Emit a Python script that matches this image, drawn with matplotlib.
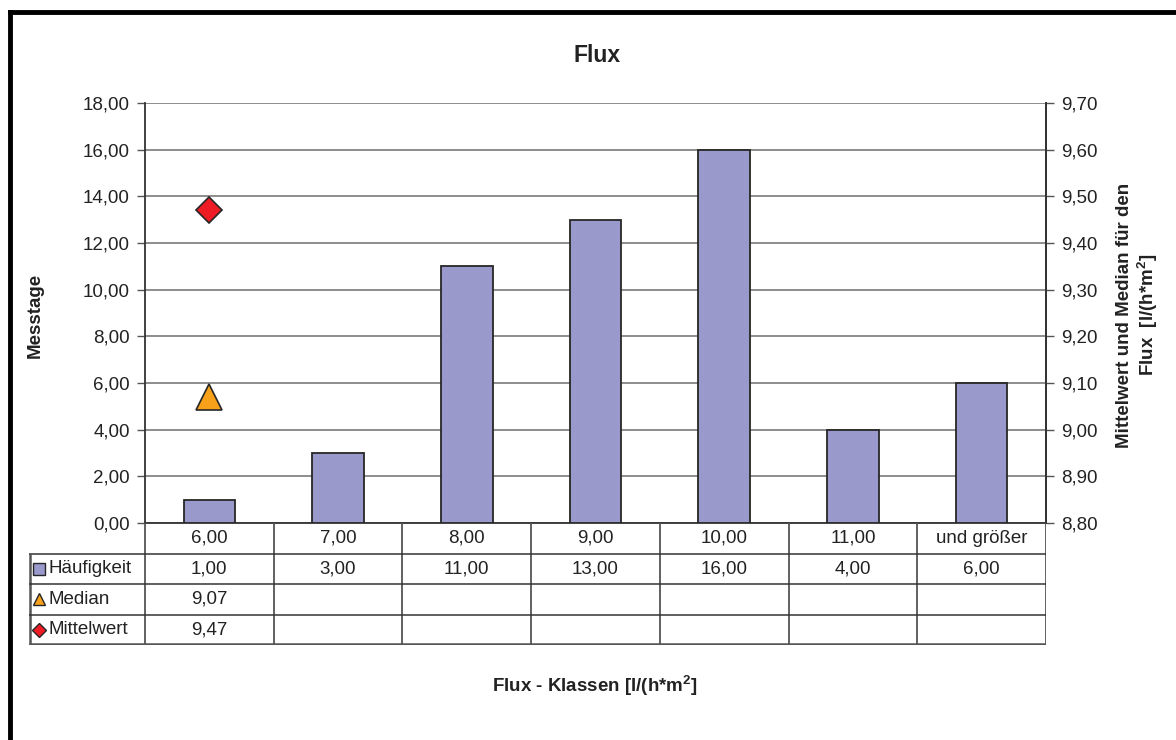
import matplotlib
matplotlib.use('Agg')
import matplotlib.pyplot as plt
from matplotlib.ticker import MultipleLocator, FuncFormatter
from matplotlib.lines import Line2D

# data
categories = ['6,00', '7,00', '8,00', '9,00', '10,00', '11,00', 'und größer']
haeufigkeit = [1, 3, 11, 13, 16, 4, 6]
median = [9.07]
mittelwert = [9.47]
row_labels = ['Häufigkeit', 'Median', 'Mittelwert']

plt.rcParams['font.family'] = ['Liberation Sans', 'DejaVu Sans']
plt.rcParams['font.size'] = 13.5
plt.rcParams['mathtext.fontset'] = 'custom'
plt.rcParams['mathtext.bf'] = 'Liberation Sans:bold'

BAR = '#9999cc'
MED = '#f7a11a'
MIT = '#ed1c24'
EDGE = '#262626'
LINE = '#555555'
TXT = '#222222'


def de(v, pos=None):
    return f'{v:.2f}'.replace('.', ',')


W, H = 1176, 740
fig = plt.figure(figsize=(W / 100, H / 100), dpi=100)


def px(x0, y0, x1, y1):
    return [x0 / W, 1 - y1 / H, (x1 - x0) / W, (y1 - y0) / H]


# main chart
ax = fig.add_axes(px(145, 103, 1046, 523))
x = list(range(len(categories)))
ax.bar(x, haeufigkeit, width=0.4, color=BAR, edgecolor=EDGE, linewidth=1.3, zorder=3)
ax.set_xlim(-0.5, len(categories) - 0.5)
ax.set_ylim(0, 18)
ax.yaxis.set_major_locator(MultipleLocator(2))
ax.yaxis.set_major_formatter(FuncFormatter(de))
ax.grid(axis='y', color='#6f6f6f', lw=1.1, zorder=0)
ax.set_xticks([])
ax.tick_params(axis='y', direction='out', length=6, width=1, color=LINE, pad=5, labelcolor=TXT)
for s in ['left', 'right', 'bottom']:
    ax.spines[s].set_color('#333333')
    ax.spines[s].set_linewidth(1.3)
ax.spines['top'].set_visible(False)

ax2 = ax.twinx()
ax2.set_ylim(8.8, 9.7)
ax2.yaxis.set_major_locator(MultipleLocator(0.1))
ax2.yaxis.set_major_formatter(FuncFormatter(de))
ax2.tick_params(axis='y', direction='out', length=6, width=1, color=LINE, pad=5, labelcolor=TXT)
for s in ['left', 'top', 'bottom']:
    ax2.spines[s].set_visible(False)
ax2.spines['right'].set_color('#333333')
ax2.spines['right'].set_linewidth(1.3)
ax2.plot([0], median, marker='^', ls='none', markersize=19, markerfacecolor=MED,
         markeredgecolor=EDGE, markeredgewidth=1.2, zorder=5)
ax2.plot([0], mittelwert, marker='D', ls='none', markersize=13, markerfacecolor=MIT,
         markeredgecolor=EDGE, markeredgewidth=1.2, zorder=5)

# data table under the chart
tab = fig.add_axes(px(29, 523, 1046, 645))
col_w = 901 / len(categories)
xl = -0.5 - 116 / col_w
xr = len(categories) - 0.5
tab.set_xlim(xl, xr)
tab.set_ylim(4, 0)
tab.axis('off')
for i in range(len(categories) + 1):
    tab.vlines(i - 0.5, 0, 4, color=LINE, lw=1.3)
tab.vlines(xl + 0.004, 1, 4, color=LINE, lw=1.8)
tab.hlines([1, 2, 3], xl, xr, color='#333333', lw=1.1)
tab.hlines(3.97, xl, xr, color=LINE, lw=1.8)

for i, c in enumerate(categories):
    tab.text(i, 0.5, c, ha='center', va='center', color=TXT)
    tab.text(i, 1.5, de(haeufigkeit[i]), ha='center', va='center', color=TXT)
tab.text(0, 2.5, de(median[0]), ha='center', va='center', color=TXT)
tab.text(0, 3.5, de(mittelwert[0]), ha='center', va='center', color=TXT)

markers = [('s', BAR, 8), ('^', MED, 9), ('D', MIT, 7)]
for r, (lab, (m, col, ms)) in enumerate(zip(row_labels, markers)):
    tab.plot([xl + 0.08], [r + 1.5], marker=m, markersize=ms, markerfacecolor=col,
             markeredgecolor=EDGE, markeredgewidth=1, ls='none', clip_on=False)
    tab.text(xl + 0.15, r + 1.5, lab, ha='left', va='center', color=TXT)

# titles and labels
fig.text(597 / W, 1 - 55 / H, 'Flux', ha='center', va='center', fontweight='bold',
         fontsize=16.5, color=TXT)
fig.text(35 / W, 1 - 315 / H, 'Messtage', ha='center', va='center', rotation=90,
         fontweight='bold', color=TXT)
fig.text(1138 / W, 1 - 315 / H, 'Mittelwert und Median für den\nFlux  [l/(h*m$^\\mathbf{2}$]',
         ha='center', va='center', rotation=90, fontweight='bold', linespacing=1.1, color=TXT)
fig.text(595 / W, 1 - 686 / H, 'Flux - Klassen [l/(h*m$^\\mathbf{2}$]', ha='center', va='center',
         fontweight='bold', color=TXT)

# outer frame (top and left edges visible)
fig.add_artist(Line2D([10 / W, 1], [1 - 12 / H, 1 - 12 / H], color='black', lw=3.5))
fig.add_artist(Line2D([10 / W, 10 / W], [1 - 12 / H, 0], color='black', lw=3.5))

fig.savefig('out.png', dpi=100)
